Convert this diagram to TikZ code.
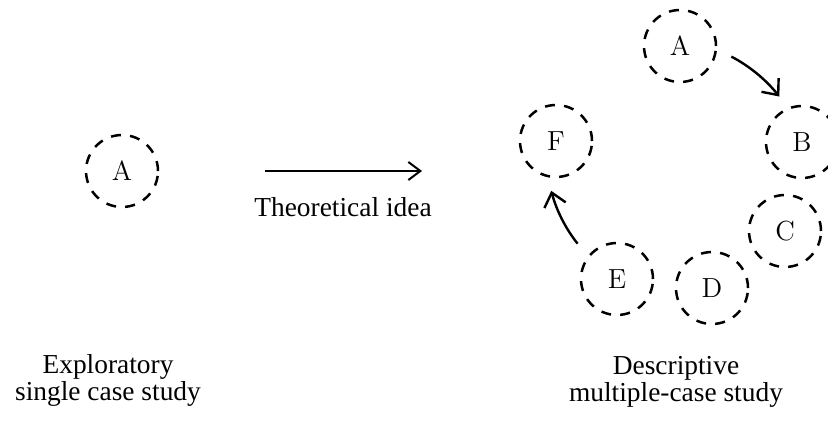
\documentclass[tikz,border=0pt]{standalone}
\usepackage{fontspec}
\newfontfamily\labelfont{Liberation Serif}
\usetikzlibrary{arrows.meta}
\begin{document}
\begin{tikzpicture}[x=0.5pt,y=-0.5pt,
  casenode/.style={circle,draw,dash pattern=on 5pt off 4.6pt,line width=1.25pt,
    minimum size=36pt,inner sep=0pt,font=\fontsize{13.8}{16}\selectfont},
  flow/.style={line width=1pt,-{Straight Barb[length=6pt,width=9pt]}},
  cflow/.style={line width=1.2pt,-{Straight Barb[length=6.5pt,width=11pt]},
    shorten <=8pt,shorten >=7pt},
  lbl/.style={font=\labelfont\fontsize{13.7}{13.5}\selectfont,inner sep=0pt,align=center}]
\useasboundingbox (0,0) rectangle (828,423);

% left single case
\node[casenode] (sA) at (122,171) {A};

% central arrow
\coordinate (ts) at (265,171);
\coordinate (te) at (422,171);
\draw[flow] (ts) -- (te);
\node[lbl,anchor=base] (ti) at (343,216) {Theoretical idea};

% right multiple cases
\node[casenode] (A) at (680,46) {A};
\node[casenode] (B) at (802,142) {B};
\node[casenode] (C) at (785,231) {C};
\node[casenode] (D) at (712,288) {D};
\node[casenode] (E) at (617,279) {E};
\node[casenode] (F) at (556,141) {F};

\draw[cflow] (A.-5) to[bend left=12] (B.112);
\draw[cflow] (E.142) to[bend left=12] (F.257);

% bottom labels
\node[lbl,anchor=north] (l1) at (108,354) {Exploratory\\single case study};
\node[lbl,anchor=north] (l2) at (676,356) {Descriptive\\multiple-case study};
\end{tikzpicture}
\end{document}
